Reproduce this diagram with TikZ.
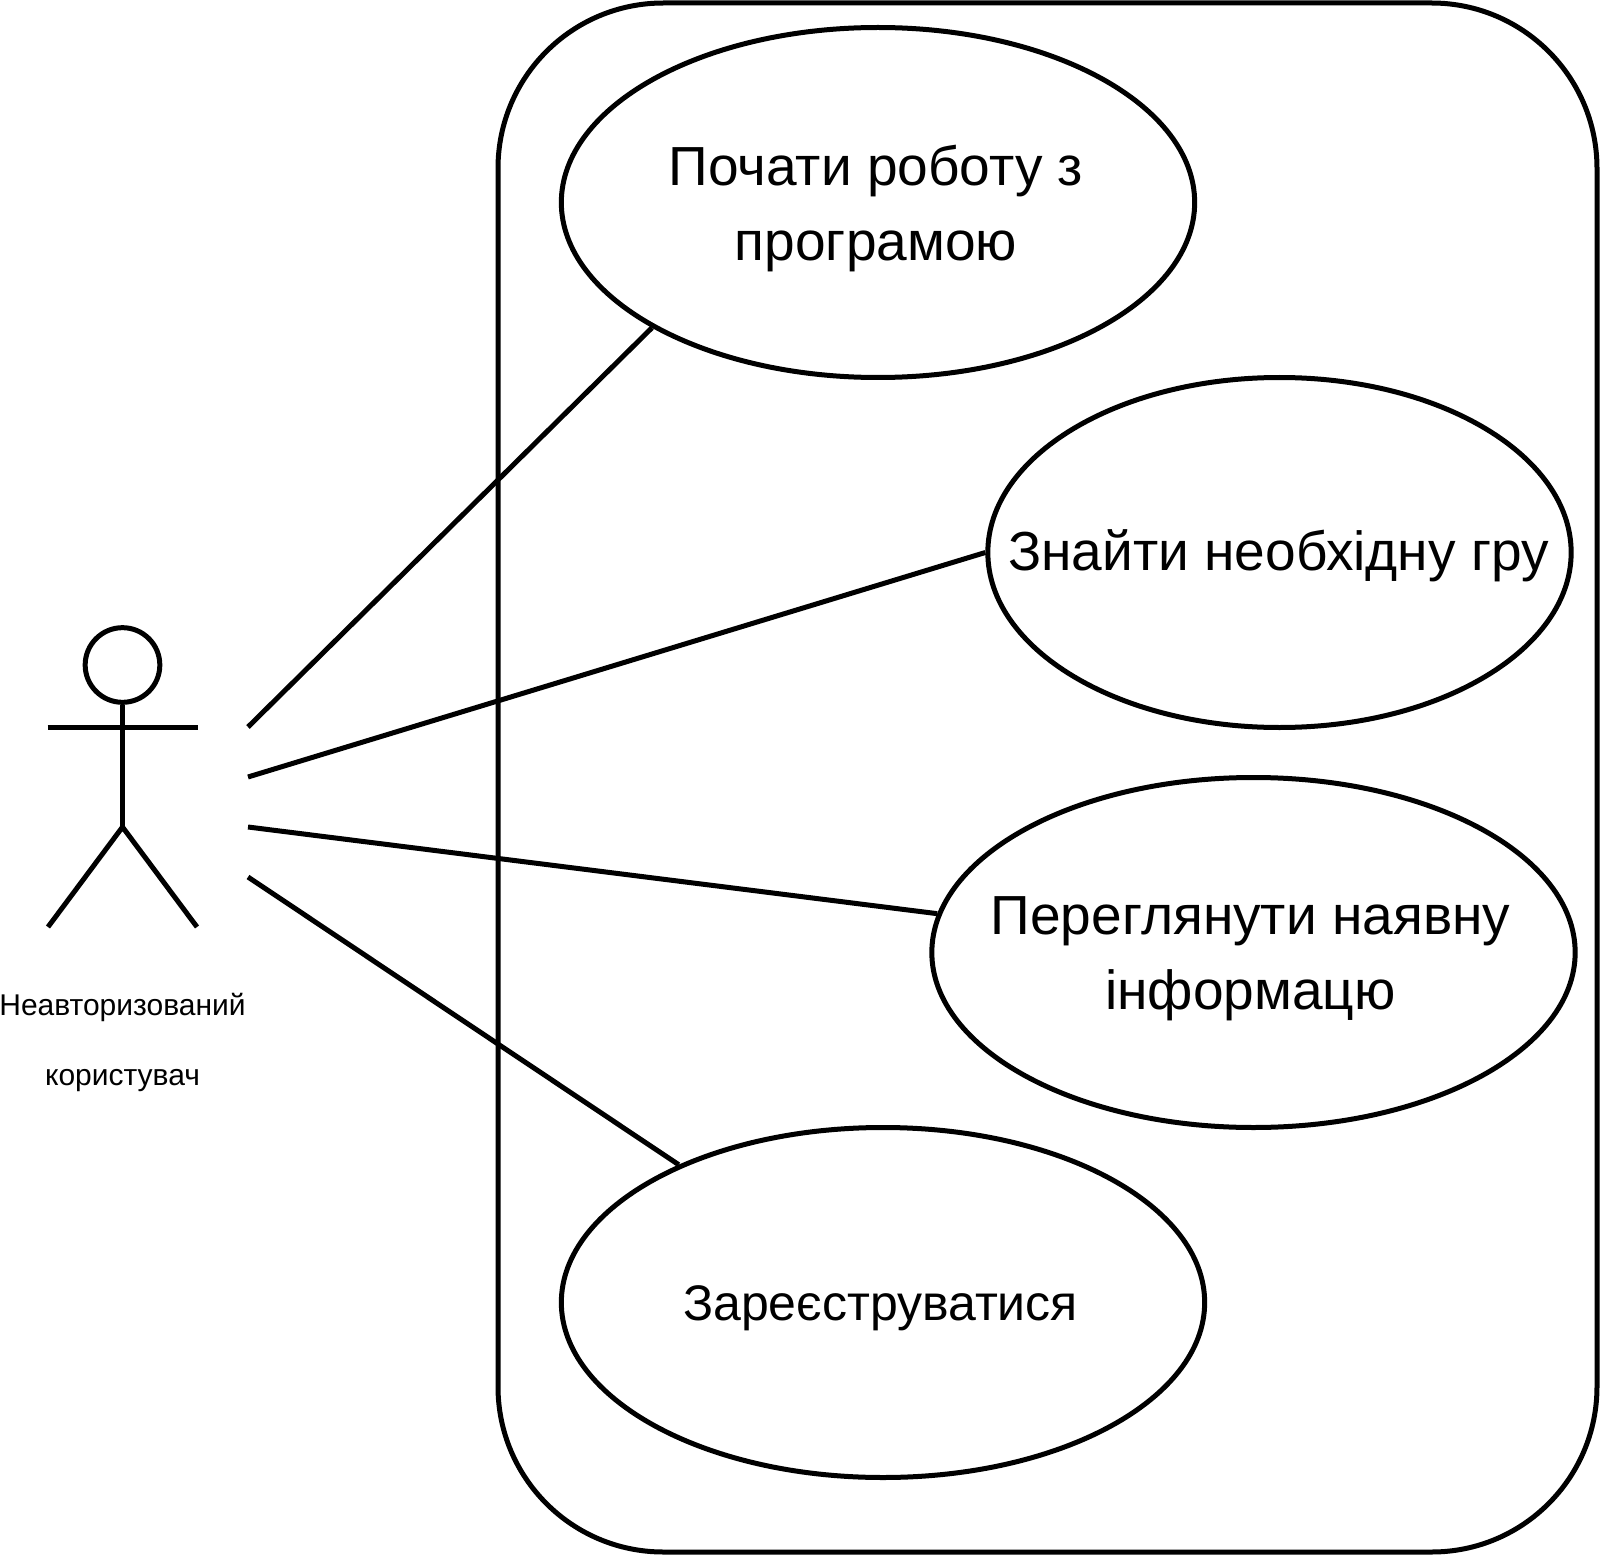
\documentclass[tikz,border=0pt]{standalone}
\usepackage{fontspec}
\setmainfont{Liberation Sans}
\usetikzlibrary{shapes.geometric}

\tikzset{every picture/.style={line width=3.75pt}}
\tikzset{usecase/.style={draw,ellipse,inner sep=0pt,minimum height=262.5pt}}
\tikzset{casetext/.style={align=center,font=\fontsize{41.3}{56.5}\selectfont}}

\begin{document}
\begin{tikzpicture}[x=0.75pt,y=0.75pt,yscale=-1,xscale=1]
	\useasboundingbox (0,0) rectangle (1600,1555);

	%Shape: Rounded Rect
	\draw [rounded corners=124pt] (498,3) rectangle (1597,1552);

	%Shape: Ellipse
	\node [usecase,minimum width=475pt] (start) at (878,202.5) {};
	\node [usecase,minimum width=437.5pt] (search) at (1279.5,552.5) {};
	\node [usecase,minimum width=482.5pt] (view) at (1253.5,952.5) {};
	\node [usecase,minimum width=482.5pt] (signup) at (883,1302.5) {};

	% Text Node
	\node [casetext] (starttext) at (876,208.5) {Почати роботу з\\програмою};
	\node [casetext] (searchtext) at (1278.5,556) {Знайти необхідну гру};
	\node [casetext] (viewtext) at (1250.5,959) {Переглянути наявну\\інформацю};
	\node [casetext,font=\fontsize{37.5}{50}\selectfont] (signuptext) at (880.5,1308.5) {Зареєструватися};

	%Shape: Actor
	\node [draw,circle,inner sep=0pt,minimum size=56pt] (head) at (122.5,665) {};
	\coordinate (hip) at (122.5,827);
	\coordinate (lhand) at (47.5,727.5);
	\coordinate (rhand) at (197.5,727.5);
	\coordinate (lfoot) at (48,927);
	\coordinate (rfoot) at (197,927);
	\draw (head.south) -- (hip);
	\draw (lhand) -- (rhand);
	\draw (lfoot) -- (hip) -- (rfoot);

	% Text Node
	\node [align=center,font=\fontsize{22.5}{52.5}\selectfont] (actorname) at (122.5,1042.5) {Неавторизований\\користувач};

	%Straight Lines
	\coordinate (from1) at (248,727);
	\coordinate (from2) at (248,777);
	\coordinate (from3) at (248,827);
	\coordinate (from4) at (248,877);
	\draw (from1) -- (start.209);
	\draw (from2) -- (search.west);
	\draw (from3) -- (view.173);
	\draw (from4) -- (signup.146);

\end{tikzpicture}
\end{document}
